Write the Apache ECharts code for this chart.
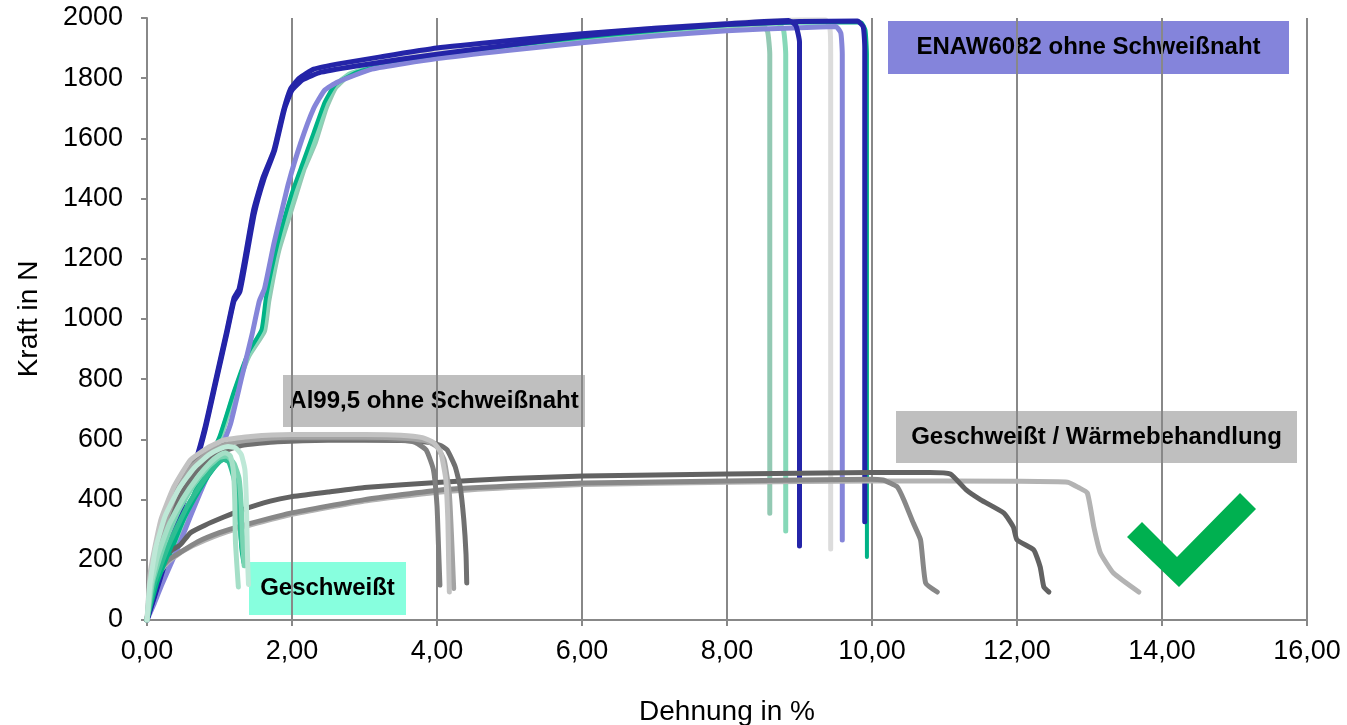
<!doctype html>
<html lang="de">
<head>
  <meta charset="UTF-8">
  <title>Kraft-Dehnung</title>
  <style>
    html, body { margin: 0; padding: 0; background: #fff; }
    #chart { width: 1347px; height: 725px; }
  </style>
  <script src="https://cdn.jsdelivr.net/npm/echarts@6/dist/echarts.min.js"></script>
</head>
<body>
  <div id="chart"></div>
  <script>
    // tick labels
    var xTicks = [0, 2, 4, 6, 8, 10, 12, 14, 16];
    var yTicks = [0, 200, 400, 600, 800, 1000, 1200, 1400, 1600, 1800, 2000];

    // ENAW6082 ohne Schweißnaht  [Dehnung %, Kraft N]
    var enawTeal = [[0,0],[0.15,105],[0.4,255],[0.7,435],[1.0,595],[1.2,745],[1.4,875],[1.62,960],[1.68,1060],[1.82,1230],[2.04,1400],[2.17,1500],[2.32,1585],[2.47,1700],[2.6,1768],[2.8,1812],[3.2,1838],[4,1872],[5,1902],[6,1928],[7,1952],[8,1972],[8.48,1978],[8.56,1955],[8.59,1880],[8.59,355]];
    var enawMint = [[0,0],[0.15,110],[0.4,260],[0.7,440],[1.0,600],[1.2,750],[1.4,880],[1.6,963],[1.66,1063],[1.8,1230],[2.02,1405],[2.15,1500],[2.3,1585],[2.45,1700],[2.57,1770],[2.8,1815],[3.2,1840],[4,1875],[5,1905],[6,1930],[7,1955],[8,1975],[8.7,1983],[8.78,1960],[8.81,1880],[8.81,296]];
    var enawGrey = [[0,0],[0.1,78],[0.25,195],[0.45,355],[0.65,505],[0.8,635],[0.95,795],[1.1,955],[1.2,1065],[1.27,1095],[1.35,1195],[1.47,1355],[1.6,1468],[1.75,1560],[1.88,1690],[1.98,1762],[2.1,1798],[2.3,1826],[3,1858],[4,1893],[5,1922],[6,1946],[7,1966],[8,1982],[9,1993],[9.36,1993],[9.42,1965],[9.43,1880],[9.43,236]];
    var enawPurple = [[0,0],[0.1,55],[0.2,115],[0.4,225],[0.6,345],[0.8,460],[1.0,560],[1.15,650],[1.3,800],[1.45,950],[1.55,1060],[1.62,1100],[1.75,1250],[1.85,1350],[1.95,1450],[2.12,1585],[2.3,1700],[2.45,1760],[2.63,1787],[3.1,1830],[4,1865],[5,1893],[6,1918],[7,1940],[8,1958],[9,1968],[9.5,1972],[9.57,1950],[9.59,1880],[9.59,266]];
    var enawGreen = [[0,0],[0.15,115],[0.4,270],[0.7,450],[1.0,610],[1.2,760],[1.4,890],[1.58,965],[1.64,1070],[1.8,1250],[2.0,1420],[2.15,1520],[2.3,1620],[2.45,1720],[2.6,1780],[2.9,1820],[3.3,1845],[4,1878],[5,1908],[6,1935],[7,1958],[8,1977],[9,1985],[9.85,1985],[9.91,1960],[9.93,1880],[9.93,209]];
    var enawBlue1 = [[0,0],[0.1,80],[0.25,200],[0.45,360],[0.65,510],[0.8,640],[0.95,800],[1.1,960],[1.2,1070],[1.27,1100],[1.35,1200],[1.47,1362],[1.6,1470],[1.75,1560],[1.88,1690],[1.98,1765],[2.1,1800],[2.3,1830],[2.7,1850],[3.2,1870],[4,1900],[5,1925],[6,1948],[7,1966],[8,1981],[8.85,1992],[8.95,1975],[9.0,1920],[9.0,246]];
    var enawBlue2 = [[0,0],[0.1,75],[0.25,190],[0.45,350],[0.65,500],[0.8,630],[0.95,790],[1.1,950],[1.2,1060],[1.28,1090],[1.36,1190],[1.48,1350],[1.62,1470],[1.76,1560],[1.9,1700],[2.0,1760],[2.15,1795],[2.4,1820],[3,1845],[4,1880],[5,1910],[6,1940],[7,1962],[8,1978],[9,1988],[9.8,1990],[9.88,1970],[9.9,1900],[9.9,326]];

    // Al99,5 ohne Schweißnaht
    var alDark1 = [[0,0],[0.06,150],[0.2,315],[0.38,430],[0.6,520],[0.85,565],[1.1,590],[1.5,600],[2,604],[3,603],[3.5,598],[3.7,590],[3.85,565],[3.95,500],[4.0,380],[4.02,250],[4.04,116]];
    var alLight = [[0,0],[0.05,166],[0.19,332],[0.37,442],[0.6,532],[0.83,571],[1.06,598],[1.43,610],[2,616],[3,616],[3.5,614],[3.8,606],[3.95,590],[4.05,558],[4.12,470],[4.15,330],[4.16,200],[4.17,93]];
    var alMed = [[0,0],[0.07,140],[0.22,300],[0.4,420],[0.62,510],[0.9,565],[1.2,590],[1.6,602],[2,607],[3,607],[3.6,603],[3.85,595],[4.0,575],[4.1,530],[4.17,420],[4.2,280],[4.23,105]];
    var alDark2 = [[0,0],[0.08,130],[0.25,290],[0.45,410],[0.7,500],[1.0,555],[1.3,580],[1.8,592],[2.5,597],[3.5,596],[3.9,590],[4.05,580],[4.14,565],[4.25,510],[4.32,442],[4.37,332],[4.4,220],[4.41,123]];

    // Geschweißt / Wärmebehandlung
    var htDark = [[0,0],[0.05,100],[0.15,180],[0.3,225],[0.46,250],[0.6,290],[0.8,315],[1.06,342],[1.3,365],[1.7,395],[1.98,409],[2.5,425],[3,440],[4.05,458],[5,470],[6.02,478],[8,485],[9.98,490],[10.8,490],[11.08,485],[11.3,432],[11.5,399],[11.82,355],[11.95,309],[12.0,266],[12.23,233],[12.32,176],[12.37,110],[12.44,93]];
    var htMed = [[0,0],[0.05,90],[0.15,160],[0.3,200],[0.46,225],[0.7,260],[1.0,290],[1.29,312],[1.98,355],[3,400],[4.05,432],[5,445],[6.02,455],[8,462],[9.98,468],[10.15,465],[10.25,455],[10.35,442],[10.44,399],[10.57,322],[10.67,266],[10.74,123],[10.9,93]];
    var htLight = [[0,0],[0.05,85],[0.15,150],[0.3,195],[0.5,230],[0.8,265],[1.2,300],[1.98,350],[3,395],[4.05,425],[5,440],[6,450],[8,458],[10,462],[12,461],[12.7,458],[12.85,440],[12.97,422],[13.06,309],[13.15,223],[13.33,156],[13.68,93]];

    // Geschweißt
    var wPale = [[0,0],[0.04,120],[0.12,240],[0.25,345],[0.45,440],[0.65,505],[0.85,548],[1.0,568],[1.12,576],[1.22,572],[1.3,550],[1.35,500],[1.37,400],[1.38,280],[1.39,180],[1.4,118]];
    var wLight = [[0,0],[0.05,110],[0.15,215],[0.3,315],[0.5,405],[0.7,475],[0.88,525],[1.0,548],[1.08,556],[1.15,545],[1.19,500],[1.21,400],[1.22,260],[1.26,110]];
    var wMint = [[0,0],[0.08,130],[0.25,260],[0.45,370],[0.65,450],[0.85,510],[1.0,540],[1.1,545],[1.2,520],[1.27,470],[1.3,380],[1.32,260],[1.34,180]];
    var wGreen = [[0,0],[0.1,120],[0.3,250],[0.55,375],[0.8,470],[0.95,515],[1.05,535],[1.13,525],[1.2,470],[1.26,380],[1.3,270],[1.34,200]];
    var wDeep = [[0,0],[0.15,130],[0.4,280],[0.65,400],[0.85,480],[1.0,525],[1.08,535],[1.16,515],[1.22,460],[1.27,360],[1.3,240],[1.33,190]];

    function line(data, color, width) {
      return {
        type: 'line',
        data: data,
        showSymbol: false,
        smooth: 0.15,
        lineStyle: { color: color, width: width || 5, cap: 'round', join: 'round' },
        emphasis: { disabled: true },
        silent: true
      };
    }

    var font = 'Liberation Sans, Arial, sans-serif';

    function box(x, y, w, h, fill, txt) {
      return {
        type: 'group', left: x, top: y, z: 100,
        children: [
          { type: 'rect', shape: { x: 0, y: 0, width: w, height: h }, style: { fill: fill } },
          { type: 'text', x: w / 2, y: h / 2,
            style: { text: txt, fill: '#000', font: 'bold 24px ' + font, align: 'center', verticalAlign: 'middle' } }
        ]
      };
    }

    var myChart = echarts.init(document.getElementById('chart'));
    var option = {
      animation: false,
      backgroundColor: '#fff',
      grid: { left: 147, right: 40, top: 18, bottom: 105, outerBoundsMode: 'none', containLabel: false },
      xAxis: {
        type: 'value', min: 0, max: 16, interval: 2,
        name: 'Dehnung in %', nameLocation: 'middle', nameGap: 78,
        nameTextStyle: { fontSize: 28, color: '#000', fontFamily: font },
        axisLine: { lineStyle: { color: '#888', width: 2 } },
        axisTick: { show: true, length: 6, lineStyle: { color: '#888', width: 2 } },
        axisLabel: {
          fontSize: 27, color: '#000', fontFamily: font, margin: 18,
          formatter: function (v) { return xTicks.indexOf(v) >= 0 ? v.toFixed(2).replace('.', ',') : ''; }
        },
        splitLine: { show: true, lineStyle: { color: '#888', width: 2 } }
      },
      yAxis: {
        type: 'value', min: 0, max: 2000, interval: 200,
        name: 'Kraft in N', nameLocation: 'middle', nameGap: 104,
        nameTextStyle: { fontSize: 28, color: '#000', fontFamily: font },
        axisLine: { show: true, lineStyle: { color: '#888', width: 2 } },
        axisTick: { show: true, length: 6, lineStyle: { color: '#888', width: 2 } },
        axisLabel: {
          fontSize: 27, color: '#000', fontFamily: font, margin: 24,
          formatter: function (v) { return yTicks.indexOf(v) >= 0 ? String(v) : ''; }
        },
        splitLine: { show: false }
      },
      series: [
        line(enawTeal, '#93C9B3'),
        line(enawMint, '#86D8B8'),
        line(enawGrey, '#DCDCDC'),
        line(enawGreen, '#00B386', 4),
        line(enawPurple, '#8585D9'),
        line(enawBlue1, '#2424A8'),
        line(enawBlue2, '#2424A8'),
        line(htLight, '#B3B3B3'),
        line(htMed, '#878787'),
        line(htDark, '#626262'),
        line(alDark2, '#707070'),
        line(alDark1, '#7F7F7F'),
        line(alMed, '#A3A3A3'),
        line(alLight, '#C2C2C2'),
        line(wDeep, '#00B386', 4),
        line(wGreen, '#2FBE93'),
        line(wMint, '#7AD4B2'),
        line(wLight, '#A5DFC7'),
        line(wPale, '#BEE8D7')
      ],
      graphic: [
        box(888, 21, 401, 53, '#8484DB', 'ENAW6082 ohne Schweißnaht'),
        box(283, 375, 302, 52, '#BFBFBF', 'Al99,5 ohne Schweißnaht'),
        box(896, 411, 401, 52, '#BFBFBF', 'Geschweißt / Wärmebehandlung'),
        box(249, 562, 157, 53, '#87FFDE', 'Geschweißt'),
        {
          type: 'polygon', z: 100,
          shape: { points: [[1127, 537], [1142, 522], [1177, 557], [1240, 493], [1256, 509], [1179, 587]] },
          style: { fill: '#00B050' }
        }
      ]
    };
    myChart.setOption(option);
  </script>
</body>
</html>
